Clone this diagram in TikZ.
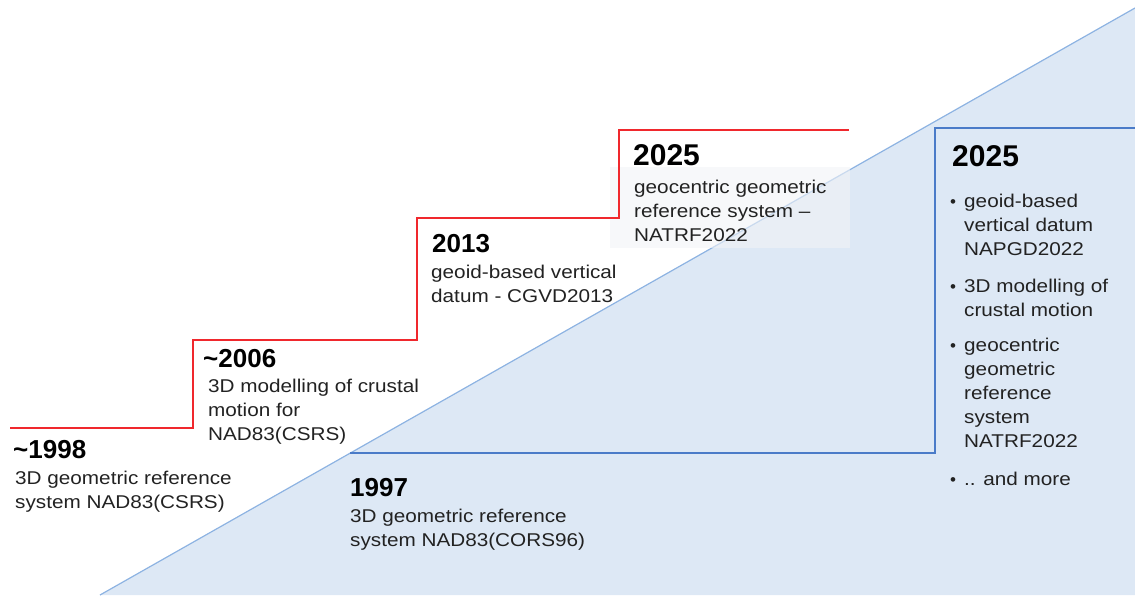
\documentclass[tikz,border=0pt]{standalone}
\usepackage{fontspec}
\setmainfont{Liberation Sans}
\newfontfamily\bodyfont[FakeStretch=1.12]{Liberation Sans}
\definecolor{txtgray}{HTML}{222222}
\definecolor{stepred}{HTML}{F0282D}
\definecolor{stepblue}{HTML}{4A7BC8}
\definecolor{diagblue}{HTML}{8DB3E2}
\definecolor{trifill}{HTML}{DDE8F5}
\definecolor{veil}{HTML}{F1F3F6}
% invisible rule that fixes the height of a block's first line
\newcommand\firstln{\rule{0pt}{15pt}}
\begin{document}
\begin{tikzpicture}[x=1pt,y=-1pt,
  year/.style={anchor=base west, inner sep=0pt, text=black,
    font=\bfseries\fontsize{26}{30}\selectfont},
  bigyear/.style={year, font=\bfseries\fontsize{30}{34}\selectfont},
  body/.style={anchor=north west, inner sep=0pt, align=left, text=txtgray,
    font=\bodyfont\fontsize{18.5}{24}\selectfont},
  bullet/.style={anchor=base west, inner sep=0pt, text=txtgray,
    font=\fontsize{17}{20}\selectfont},
  redstep/.style={draw=stepred, line width=1.6pt},
  bluestep/.style={draw=stepblue, line width=1.4pt},
  diagline/.style={draw=diagblue, line width=1.2pt}]
\useasboundingbox (0,0) rectangle (1135,595);

% rising wedge
\coordinate (w0) at (100,595);
\coordinate (w1) at (1135,8);
\coordinate (w2) at (1135,595);
\fill[trifill] (w0) -- (w1) -- (w2) -- cycle;
\draw[diagline] (w0) -- (w1);

% veil behind the 2025 text block
\fill[veil, fill opacity=0.6] (610,167) rectangle (850,248);

% red staircase
\draw[redstep] (10,428) -- (193,428) -- (193,340) -- (417,340)
  -- (417,218) -- (619,218) -- (619,130) -- (849,130);

% blue step
\draw[bluestep] (350,453) -- (935,453) -- (935,128) -- (1135,128);

% staircase labels
\node[year] (y1998) at (13,458) {\textasciitilde1998};
\node[body] (t1998) at (15,469) {\firstln3D geometric reference\\system NAD83(CSRS)};

\node[year] (y2006) at (203,367) {\textasciitilde2006};
\node[body] (t2006) at (208,377) {\firstln3D modelling of crustal\\motion for\\NAD83(CSRS)};

\node[year] (y2013) at (432,252) {2013};
\node[body] (t2013) at (431,263) {\firstln geoid-based vertical\\datum - CGVD2013};

\node[bigyear] (y2025a) at (633,165) {2025};
\node[body] (t2025a) at (634,178) {\firstln geocentric geometric\\reference system –\\NATRF2022};

% lower labels
\node[year] (y1997) at (350,496) {1997};
\node[body] (t1997) at (350,507) {\firstln3D geometric reference\\system NAD83(CORS96)};

\node[bigyear] (y2025b) at (952,166) {2025};
\node[bullet] (b1) at (950,207) {•};
\node[body] (i1) at (964,192) {\firstln geoid-based\\vertical datum\\NAPGD2022};
\node[bullet] (b2) at (950,292) {•};
\node[body] (i2) at (964,277) {\firstln3D modelling of\\crustal motion};
\node[bullet] (b3) at (950,351) {•};
\node[body] (i3) at (964,336) {\firstln geocentric\\geometric\\reference\\system\\NATRF2022};
\node[bullet] (b4) at (950,485) {•};
\node[body] (i4) at (964,470) {\firstln.. and more};
\end{tikzpicture}
\end{document}
